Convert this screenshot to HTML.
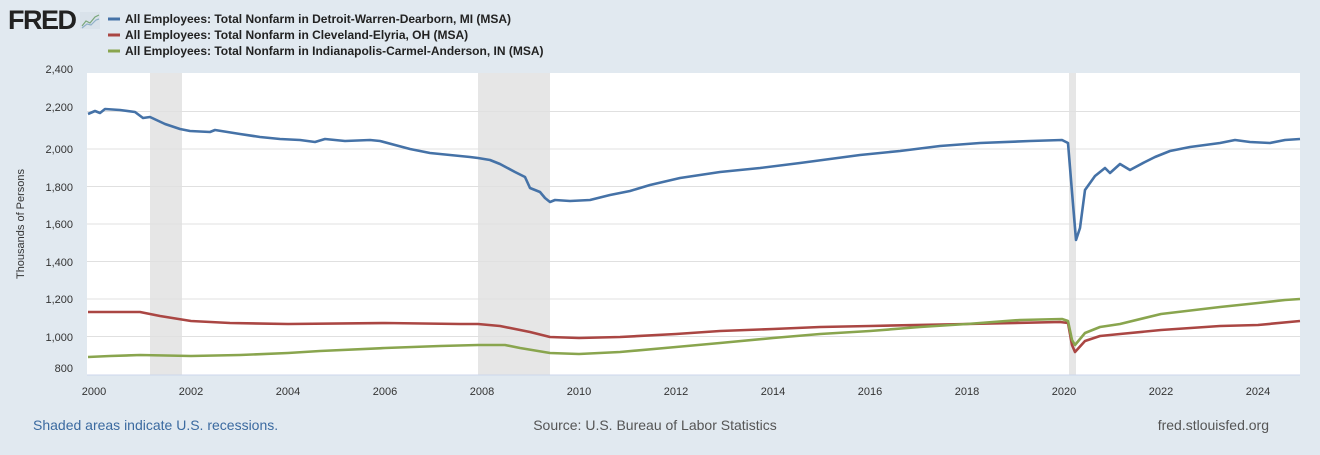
<!DOCTYPE html>
<html><head><meta charset="utf-8"><style>
body{margin:0;width:1320px;height:450px;background:#e1e9f0;font-family:"Liberation Sans",sans-serif;overflow:hidden}
</style></head><body>
<svg width="1320" height="450" xmlns="http://www.w3.org/2000/svg" font-family="Liberation Sans, sans-serif">
<rect width="1320" height="450" fill="#e1e9f0"/>
<text x="8" y="29" font-size="27" font-weight="bold" fill="#222" letter-spacing="-1.5">FRED</text>
<g transform="translate(80,12)"><rect width="20" height="17" fill="#d9e2ea"/><polyline points="2,14 6,9 10,11 15,5 19,3" fill="none" stroke="#7aa77a" stroke-width="1.2"/><polyline points="2,16 7,12 11,13 16,8 19,7" fill="none" stroke="#8fb0c8" stroke-width="1.2"/></g>
<g font-size="12" font-weight="bold" fill="#222">
<line x1="108" y1="19" x2="120" y2="19" stroke="#4572a7" stroke-width="3"/><text x="125" y="23">All Employees: Total Nonfarm in Detroit-Warren-Dearborn, MI (MSA)</text>
<line x1="108" y1="35" x2="120" y2="35" stroke="#aa4643" stroke-width="3"/><text x="125" y="39">All Employees: Total Nonfarm in Cleveland-Elyria, OH (MSA)</text>
<line x1="108" y1="51" x2="120" y2="51" stroke="#89a54e" stroke-width="3"/><text x="125" y="55">All Employees: Total Nonfarm in Indianapolis-Carmel-Anderson, IN (MSA)</text>
</g>
<rect x="87" y="73" width="1213" height="302" fill="#fff"/>
<rect x="150" y="73" width="32" height="302" fill="#e6e6e6"/>
<rect x="478" y="73" width="72" height="302" fill="#e6e6e6"/>
<rect x="1069" y="73" width="7" height="302" fill="#e6e6e6"/>
<g stroke="#e0e0e0" stroke-width="1">
<line x1="87" x2="1300" y1="111.5" y2="111.5"/><line x1="87" x2="1300" y1="149" y2="149"/><line x1="87" x2="1300" y1="186.5" y2="186.5"/><line x1="87" x2="1300" y1="224" y2="224"/><line x1="87" x2="1300" y1="261.5" y2="261.5"/><line x1="87" x2="1300" y1="299" y2="299"/><line x1="87" x2="1300" y1="336.5" y2="336.5"/>
</g>
<line x1="87" x2="1300" y1="375" y2="375" stroke="#ccd6eb"/>
<g font-size="11" fill="#333" text-anchor="end">
<text x="73" y="73">2,400</text><text x="73" y="111">2,200</text><text x="73" y="153">2,000</text><text x="73" y="191">1,800</text><text x="73" y="228">1,600</text><text x="73" y="266">1,400</text><text x="73" y="303">1,200</text><text x="73" y="341">1,000</text><text x="73" y="372">800</text>
</g>
<text transform="translate(24,224) rotate(-90)" font-size="11" fill="#333" text-anchor="middle">Thousands of Persons</text>
<g font-size="11" fill="#333" text-anchor="middle">
<text x="94" y="395">2000</text><text x="191" y="395">2002</text><text x="288" y="395">2004</text><text x="385" y="395">2006</text><text x="482" y="395">2008</text><text x="579" y="395">2010</text><text x="676" y="395">2012</text><text x="773" y="395">2014</text><text x="870" y="395">2016</text><text x="967" y="395">2018</text><text x="1064" y="395">2020</text><text x="1161" y="395">2022</text><text x="1258" y="395">2024</text>
</g>
<g fill="none" stroke-width="2.6" stroke-linejoin="round">
<polyline stroke="#4572a7" points="88,114 95,111 100,113 105,109 120,110 135,112 143,118 150,117 165,124 180,129 190,131 210,132 215,130 240,134 260,137 280,139 300,140 315,142 325,139 345,141 370,140 380,141 395,145 410,149 430,153 450,155 470,157 478,158 490,160 500,164 515,172 525,177 530,188 540,192 545,198 550,202 555,200 570,201 590,200 610,195 630,191 650,185 680,178 720,172 760,168 800,163 830,159 860,155 900,151 940,146 980,143 1030,141 1062,140 1068,143 1072,192 1076,240 1080,228 1085,190 1095,176 1105,168 1110,173 1120,164 1130,170 1145,162 1155,157 1170,151 1190,147 1220,143 1235,140 1250,142 1270,143 1285,140 1300,139"/>
<polyline stroke="#aa4643" points="88,312 140,312 160,316 191,321 230,323 288,324 385,323 460,324 478,324 500,326 530,332 550,337 579,338 620,337 676,334 720,331 773,329 820,327 870,326 967,324 1060,322 1068,323 1072,345 1075,352 1085,341 1100,336 1120,334 1161,330 1220,326 1258,325 1300,321"/>
<polyline stroke="#89a54e" points="88,357 110,356 140,355 191,356 240,355 288,353 320,351 385,348 440,346 478,345 505,345 520,348 550,353 579,354 620,352 676,347 720,343 773,338 820,334 870,331 920,327 967,324 1020,320 1062,319 1068,321 1072,340 1075,345 1085,333 1100,327 1120,324 1161,314 1220,307 1258,303 1285,300 1300,299"/>
</g>
<text x="33" y="430" font-size="14" fill="#3b6aa0">Shaded areas indicate U.S. recessions.</text>
<text x="655" y="430" font-size="14" fill="#555" text-anchor="middle">Source: U.S. Bureau of Labor Statistics</text>
<text x="1269" y="430" font-size="14" fill="#555" text-anchor="end">fred.stlouisfed.org</text>
</svg>
</body></html>
